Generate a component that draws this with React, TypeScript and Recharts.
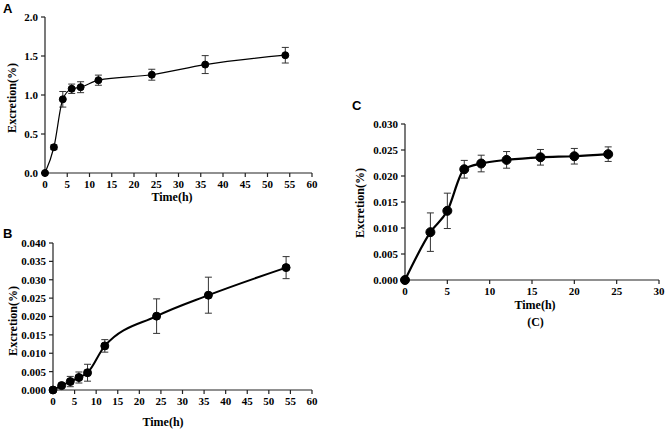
import React from 'react';
import { LineChart, Line, XAxis, YAxis, ErrorBar, Label } from 'recharts';

// Panel A
const timeA = [0, 2, 4, 6, 8, 12, 24, 36, 54];
const valA = [0, 0.33, 0.945, 1.08, 1.1, 1.19, 1.26, 1.39, 1.51];
const errA = [0, 0.03, 0.1, 0.06, 0.07, 0.065, 0.07, 0.115, 0.1];
const ticksXA = [0, 5, 10, 15, 20, 25, 30, 35, 40, 45, 50, 55, 60];
const ticksYA = [0, 0.5, 1.0, 1.5, 2.0];

// Panel B
const timeB = [0, 2, 4, 6, 8, 12, 24, 36, 54];
const valB = [0, 0.0012, 0.0023, 0.0034, 0.0047, 0.012, 0.0201, 0.0258, 0.0333];
const errB = [0, 0.0004, 0.0014, 0.0015, 0.0023, 0.0017, 0.0047, 0.0049, 0.003];
const ticksXB = [0, 5, 10, 15, 20, 25, 30, 35, 40, 45, 50, 55, 60];
const ticksYB = [0, 0.005, 0.01, 0.015, 0.02, 0.025, 0.03, 0.035, 0.04];

// Panel C
const timeC = [0, 3, 5, 7, 9, 12, 16, 20, 24];
const valC = [0, 0.0092, 0.0133, 0.0213, 0.0224, 0.0231, 0.0236, 0.0238, 0.0242];
const errC = [0, 0.0037, 0.0034, 0.0017, 0.0016, 0.0016, 0.0015, 0.0015, 0.0014];
const ticksXC = [0, 5, 10, 15, 20, 25, 30];
const ticksYC = [0, 0.005, 0.01, 0.015, 0.02, 0.025, 0.03];

const build = (t: number[], v: number[], e: number[]) =>
  t.map((x, i) => ({ t: x, v: v[i], err: e[i] }));

const dataA = build(timeA, valA, errA);
const dataB = build(timeB, valB, errB);
const dataC = build(timeC, valC, errC);

const SERIF = '"Liberation Serif", "Times New Roman", serif';
const SANS = '"Liberation Sans", Arial, sans-serif';
const tickStyle = { fontFamily: SERIF, fontWeight: 700, fontSize: 11, fill: '#000' };
const axisLine = { stroke: '#222', strokeWidth: 1.2 };

const titleText = (x: number, y: number, text: string, rotate = false) => () => (
  <text
    x={x}
    y={y}
    textAnchor="middle"
    dominantBaseline="central"
    transform={rotate ? `rotate(-90, ${x}, ${y})` : undefined}
    style={{ fontFamily: SERIF, fontWeight: 700, fontSize: 12, fill: '#000' }}
  >
    {text}
  </text>
);

const letter = (x: number, y: number, text: string) => () => (
  <text x={x} y={y} style={{ fontFamily: SANS, fontWeight: 700, fontSize: 13, fill: '#000' }}>
    {text}
  </text>
);

type PanelProps = {
  data: { t: number; v: number; err: number }[];
  width: number;
  height: number;
  margin: { top: number; right: number; left: number; bottom: number };
  yWidth: number;
  xHeight: number;
  xDomain: [number, number];
  yDomain: [number, number];
  xTicks: number[];
  yTicks: number[];
  yDigits: number;
  strokeWidth: number;
  r: number;
  cap: number;
  xTitle: [number, number];
  yTitle: [number, number];
  letterPos: [number, number];
  letterText: string;
  extra?: [number, number, string];
};

function Panel(p: PanelProps) {
  return (
    <LineChart width={p.width} height={p.height} data={p.data} margin={p.margin}>
      <XAxis
        dataKey="t"
        type="number"
        domain={p.xDomain}
        ticks={p.xTicks}
        interval={0}
        tick={tickStyle}
        tickSize={4}
        tickMargin={3}
        axisLine={axisLine}
        tickLine={axisLine}
        height={p.xHeight}
      >
        <Label content={titleText(p.xTitle[0], p.xTitle[1], 'Time(h)')} />
        {p.extra ? <Label content={titleText(p.extra[0], p.extra[1], p.extra[2])} /> : null}
      </XAxis>
      <YAxis
        type="number"
        domain={p.yDomain}
        ticks={p.yTicks}
        interval={0}
        tick={tickStyle}
        tickSize={4}
        tickMargin={3}
        axisLine={axisLine}
        tickLine={axisLine}
        width={p.yWidth}
        tickFormatter={(v: number) => v.toFixed(p.yDigits)}
      >
        <Label content={titleText(p.yTitle[0], p.yTitle[1], 'Excretion(%)', true)} />
        <Label content={letter(p.letterPos[0], p.letterPos[1], p.letterText)} />
      </YAxis>
      <Line
        type="monotone"
        dataKey="v"
        stroke="#000"
        strokeWidth={p.strokeWidth}
        dot={{ r: p.r, fill: '#000', stroke: '#000', strokeWidth: 1 }}
        isAnimationActive={false}
      >
        <ErrorBar dataKey="err" width={p.cap} stroke="#333" strokeWidth={1} direction="y" />
      </Line>
    </LineChart>
  );
}

export default function App() {
  return (
    <div style={{ position: 'absolute', left: 0, top: 0, width: 666, height: 430, background: '#fff' }}>
      <div style={{ position: 'absolute', left: 0, top: 0 }}>
        <Panel
          data={dataA}
          width={330}
          height={205}
          margin={{ top: 17, right: 18, left: 0, bottom: 0 }}
          yWidth={45}
          xHeight={32}
          xDomain={[0, 60]}
          yDomain={[0, 2]}
          xTicks={ticksXA}
          yTicks={ticksYA}
          yDigits={1}
          strokeWidth={1.2}
          r={3.5}
          cap={3.5}
          xTitle={[172, 197]}
          yTitle={[12, 98]}
          letterPos={[3, 13]}
          letterText="A"
        />
      </div>
      <div style={{ position: 'absolute', left: 0, top: 215 }}>
        <Panel
          data={dataB}
          width={330}
          height={215}
          margin={{ top: 28, right: 18, left: 0, bottom: 0 }}
          yWidth={53}
          xHeight={40}
          xDomain={[0, 60]}
          yDomain={[0, 0.04]}
          xTicks={ticksXB}
          yTicks={ticksYB}
          yDigits={3}
          strokeWidth={2}
          r={4}
          cap={3.5}
          xTitle={[163, 207]}
          yTitle={[12.5, 106]}
          letterPos={[3, 23]}
          letterText="B"
        />
      </div>
      <div style={{ position: 'absolute', left: 340, top: 90 }}>
        <Panel
          data={dataC}
          width={326}
          height={240}
          margin={{ top: 34, right: 7, left: 0, bottom: 0 }}
          yWidth={65}
          xHeight={50}
          xDomain={[0, 30]}
          yDomain={[0, 0.03]}
          xTicks={ticksXC}
          yTicks={ticksYC}
          yDigits={3}
          strokeWidth={2.2}
          r={4.5}
          cap={3.5}
          xTitle={[195, 215]}
          yTitle={[20, 113]}
          letterPos={[12, 20]}
          letterText="C"
          extra={[195.5, 232, '(C)']}
        />
      </div>
    </div>
  );
}
